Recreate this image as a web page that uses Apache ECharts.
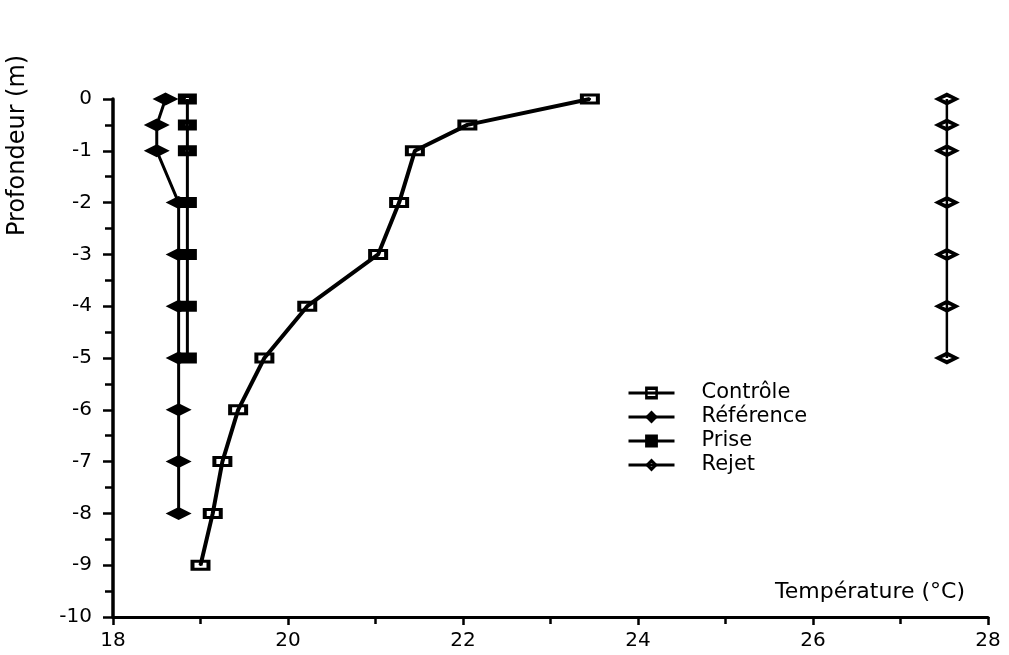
<!DOCTYPE html>
<html>
<head>
<meta charset="utf-8">
<script src="https://cdn.jsdelivr.net/npm/echarts@6/dist/echarts.min.js"></script>
<style>
html,body{margin:0;padding:0;background:#fff;}
#chart{width:1009px;height:655px;}
</style>
</head>
<body>
<div id="chart"></div>
<script>
// ---- data ----
var seriesNames = ['Contrôle', 'Référence', 'Prise', 'Rejet'];
var depthControle = [0, -0.5, -1, -2, -3, -4, -5, -6, -7, -8, -9];
var tempControle  = [23.45, 22.05, 21.45, 21.27, 21.03, 20.22, 19.73, 19.43, 19.25, 19.14, 19.0];
var depthReference = [0, -0.5, -1, -2, -3, -4, -5, -6, -7, -8];
var tempReference  = [18.6, 18.5, 18.5, 18.75, 18.75, 18.75, 18.75, 18.75, 18.75, 18.75];
var depthPrise = [0, -0.5, -1, -2, -3, -4, -5];
var tempPrise  = [18.85, 18.85, 18.85, 18.85, 18.85, 18.85, 18.85];
var depthRejet = [0, -0.5, -1, -2, -3, -4, -5];
var tempRejet  = [27.53, 27.53, 27.53, 27.53, 27.53, 27.53, 27.53];
var xAxisTitle = 'Température (°C)';
var yAxisTitle = 'Profondeur (m)';

function pairs(xs, ys) { return xs.map(function (x, i) { return [x, ys[i]]; }); }

var FONT = 'DejaVu Sans';
var symOpenSquare = 'path://M0 0H20V11H0Z M4 3V8H16V3Z M9 4.6H11V6.4H9Z';
var symFilledSquare = 'path://M0 0H19V11H0Z M8 4.6V6.4H11V4.6Z';
var symOpenDiamond = 'path://M13 0L26 6.5L13 13L0 6.5Z M13 4.5L8 6.5L13 8.5L18 6.5Z';

var chart = echarts.init(document.getElementById('chart'));
chart.setOption({
  backgroundColor: '#fff',
  animation: false,
  textStyle: { fontFamily: FONT, color: '#000' },
  grid: { left: 113, right: 21, top: 99, bottom: 38, outerBoundsMode: 'none' },
  legend: {
    data: seriesNames,
    orient: 'vertical',
    left: 622,
    top: 376,
    itemWidth: 46,
    itemHeight: 16,
    itemGap: 0,
    lineStyle: { width: 3 },
    textStyle: { fontFamily: FONT, fontSize: 21, color: '#000', padding: [0, 0, 0, 22], lineHeight: 24 }
  },
  xAxis: {
    type: 'value',
    min: 18, max: 28, interval: 2,
    name: xAxisTitle,
    nameLocation: 'end',
    nameGap: -23,
    nameTextStyle: { fontFamily: FONT, fontSize: 22, color: '#000', align: 'right', verticalAlign: 'bottom', padding: [0, 0, 14, 0] },
    axisLine: { show: true, onZero: false, lineStyle: { color: '#000', width: 3 } },
    axisTick: { show: true, inside: false, length: 8, lineStyle: { color: '#000', width: 2.5 } },
    minorTick: { show: true, splitNumber: 2, length: 7, lineStyle: { color: '#000', width: 2.5 } },
    splitLine: { show: false },
    axisLabel: { fontFamily: FONT, fontSize: 20, color: '#000', margin: 14 }
  },
  yAxis: {
    type: 'value',
    min: -10, max: 0, interval: 1,
    axisLine: { show: true, onZero: false, lineStyle: { color: '#000', width: 3.5 } },
    axisTick: { show: true, inside: false, length: 10, lineStyle: { color: '#000', width: 2.5 } },
    minorTick: { show: true, splitNumber: 2, length: 8, lineStyle: { color: '#000', width: 2.5 } },
    splitLine: { show: false },
    axisLabel: { fontFamily: FONT, fontSize: 20, color: '#000', margin: 21 }
  },
  graphic: [{
    type: 'text',
    x: 18, y: 236,
    rotation: Math.PI / 2,
    style: { text: yAxisTitle, fontFamily: FONT, fontSize: 24, fill: '#000', align: 'left', verticalAlign: 'middle' }
  }],
  series: [
    {
      name: seriesNames[0], type: 'line', data: pairs(tempControle, depthControle),
      symbol: symOpenSquare, symbolSize: [20, 11],
      lineStyle: { color: '#000', width: 4 },
      itemStyle: { color: '#000' }
    },
    {
      name: seriesNames[1], type: 'line', data: pairs(tempReference, depthReference),
      symbol: 'diamond', symbolSize: [26, 13],
      lineStyle: { color: '#000', width: 3 },
      itemStyle: { color: '#000' }
    },
    {
      name: seriesNames[2], type: 'line', data: pairs(tempPrise, depthPrise),
      symbol: symFilledSquare, symbolSize: [19, 11],
      lineStyle: { color: '#000', width: 3 },
      itemStyle: { color: '#000' }
    },
    {
      name: seriesNames[3], type: 'line', data: pairs(tempRejet, depthRejet),
      symbol: symOpenDiamond, symbolSize: [26, 13],
      lineStyle: { color: '#000', width: 2.5 },
      itemStyle: { color: '#000' }
    }
  ]
});
</script>
</body>
</html>
